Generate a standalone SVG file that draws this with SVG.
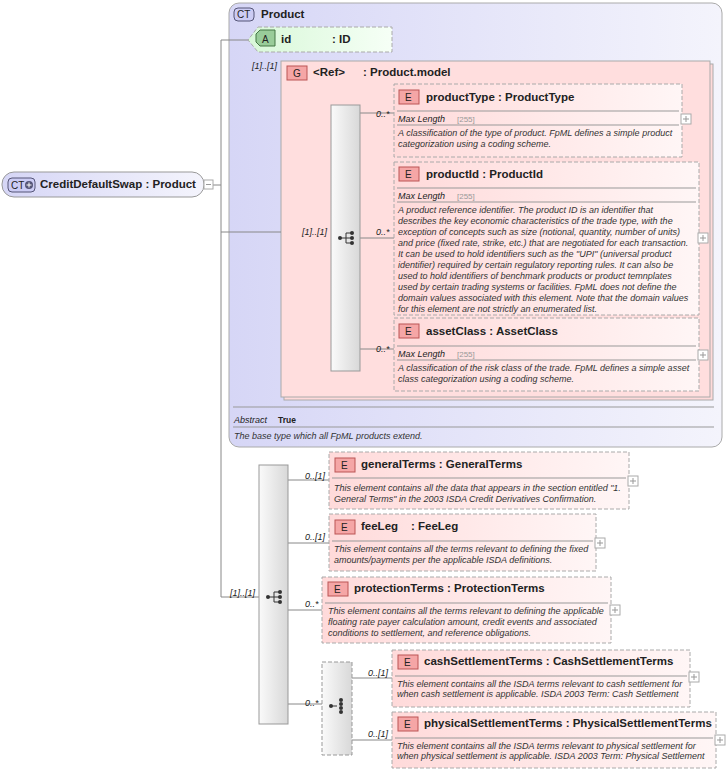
<svg xmlns="http://www.w3.org/2000/svg" width="728" height="775" viewBox="0 0 728 775">
<defs>
<linearGradient id="comp" x1="0" y1="0" x2="1" y2="0"><stop offset="0" stop-color="#fafafa"/><stop offset="1" stop-color="#d8d8d8"/></linearGradient>
<linearGradient id="el" x1="0" y1="0" x2="1" y2="0"><stop offset="0" stop-color="#ffdada"/><stop offset="1" stop-color="#fff6f6"/></linearGradient>
<linearGradient id="ct" x1="0" y1="0" x2="1" y2="0"><stop offset="0" stop-color="#d6d6f6"/><stop offset="1" stop-color="#f4f4fc"/></linearGradient>
<linearGradient id="at" x1="0" y1="0" x2="1" y2="0"><stop offset="0" stop-color="#d8f8d8"/><stop offset="1" stop-color="#f6fff6"/></linearGradient>
<g id="seqicon"><circle cx="-6" cy="0" r="2" fill="#333"/><path d="M-6 0H0M0 -5V5M0 -5H5M0 0H5M0 5H5" stroke="#333" fill="none"/><circle cx="6" cy="-5" r="2" fill="#333"/><circle cx="6" cy="0" r="2" fill="#333"/><circle cx="6" cy="5" r="2" fill="#333"/></g>
<g id="choiceicon"><circle cx="-6" cy="0" r="2" fill="#333"/><path d="M-6 0H0" stroke="#333"/><circle cx="4" cy="-6" r="2" fill="#333"/><circle cx="4" cy="-2" r="2" fill="#333"/><circle cx="4" cy="2" r="2" fill="#333"/><circle cx="4" cy="6" r="2" fill="#333"/></g>
<g id="plus"><rect x="-5" y="-5" width="10" height="10" fill="#fff" stroke="#aaa"/><path d="M-3 0H3M0 -3V3" stroke="#999"/></g>
</defs>
<style>
text{font-family:"Liberation Sans",Arial,sans-serif;fill:#222}
.t{font-size:11.5px;font-weight:bold}
.d{font-size:9px;font-style:italic;fill:#333}
.m{font-size:9px;font-style:italic;fill:#222}
.c{font-size:9px;font-style:italic}
.v{font-size:8px;fill:#999}
.e{fill:url(#el);stroke:#aaa;stroke-dasharray:4 2}
.badge{fill:#f5a6a6;stroke:#b55}
.sep{stroke:#999}
.cn{stroke:#888;fill:none}
</style>
<g id="Product">
<rect x="229" y="3" width="493" height="444" rx="10" fill="url(#ct)" stroke="#aaa"/>
<rect x="234" y="8" width="20" height="13" rx="4" fill="#ccccf4" stroke="#557"/>
<text x="237" y="18" font-size="10">CT</text>
<text class="t" x="261" y="18">Product</text>
<path class="sep" d="M233 407H714M233 427H714"/>
<text class="m" x="234" y="423">Abstract</text><text x="278" y="423" font-size="8.5" font-weight="bold">True</text>
<text class="d" x="234" y="439">The base type which all FpML products extend.</text>
</g>
<g id="group">
<rect x="284" y="64" width="429" height="336" fill="#ffdada" stroke="#aaa"/>
<rect x="281" y="61" width="429" height="336" fill="#ffdede" stroke="#aaa"/>
<rect x="287" y="66" width="20" height="14" class="badge"/>
<text x="293" y="77" font-size="10">G</text>
<text class="t" x="313" y="76">&lt;Ref&gt;</text><text class="t" x="363" y="76">: Product.model</text>
</g>
<g id="connectors">
<path class="cn" d="M213 185H221M221 40V597M221 40H248M221 232H281M221 597H259"/>
<path class="cn" d="M360 113H394M360 238H394M360 349H394"/>
<path class="cn" d="M288 480H329M288 543H329M288 610H322M288 704H322"/>
<path class="cn" d="M352 678H392M352 740H392"/>
<text class="c" x="252" y="69">[1]..[1]</text>
<text class="c" x="302" y="235">[1]..[1]</text>
<text class="c" x="230" y="596">[1]..[1]</text>
<text class="c" x="376" y="117">0..*</text>
<text class="c" x="376" y="235">0..*</text>
<text class="c" x="376" y="352">0..*</text>
<text class="c" x="305" y="479">0..[1]</text>
<text class="c" x="305" y="540">0..[1]</text>
<text class="c" x="305" y="607">0..*</text>
<text class="c" x="305" y="706">0..*</text>
<text class="c" x="368" y="676">0..[1]</text>
<text class="c" x="368" y="737">0..[1]</text>
</g>
<g id="root">
<rect x="2" y="172" width="202" height="25" rx="12" fill="url(#ct)" stroke="#999"/>
<rect x="8" y="178" width="27" height="14" rx="4" fill="#ccccf4" stroke="#557"/>
<text x="11" y="189" font-size="10">CT</text>
<circle cx="29" cy="185" r="4" fill="#557"/><path d="M26.5 185H31.5M29 182.5V187.5" stroke="#fff"/>
<text class="t" x="40" y="188">CreditDefaultSwap : Product</text>
<rect x="204" y="180" width="9" height="9" fill="#fff" stroke="#aaa"/><path d="M206 184.5H211" stroke="#999"/>
</g>
<g id="attr-id">
<path d="M258 27H392V52H258L248 40Z" fill="url(#at)" stroke="#aaa" stroke-dasharray="4 2"/>
<path d="M256 34L260 30H275V46H260L256 42Z" fill="#9c9" stroke="#474"/>
<text x="262" y="43" font-size="10">A</text>
<text class="t" x="281" y="43">id</text><text class="t" x="332" y="43">: ID</text>
</g>
<g id="seq1">
<rect x="331" y="105" width="29" height="266" fill="url(#comp)" stroke="#999"/>
<use href="#seqicon" x="346" y="238"/>
</g>
<g id="productType">
<rect class="e" x="394" y="84" width="288" height="73"/>
<rect class="badge" x="399" y="90" width="20" height="14"/><text x="405" y="101" font-size="10">E</text>
<text class="t" x="426" y="101">productType : ProductType</text>
<path class="sep" d="M397 111H679M397 125H679"/>
<text class="m" x="398" y="122">Max Length</text><text class="v" x="457" y="122">[255]</text>
<text class="d" x="398" y="136">A classification of the type of product. FpML defines a simple product</text>
<text class="d" x="398" y="147">categorization using a coding scheme.</text>
<use href="#plus" x="686" y="119"/>
</g>
<g id="productId">
<rect class="e" x="394" y="162" width="305" height="153"/>
<rect class="badge" x="399" y="167" width="20" height="14"/><text x="405" y="178" font-size="10">E</text>
<text class="t" x="426" y="178">productId : ProductId</text>
<path class="sep" d="M397 188H696M397 202H696"/>
<text class="m" x="398" y="199">Max Length</text><text class="v" x="457" y="199">[255]</text>
<text class="d" x="398" y="213">A product reference identifier. The product ID is an identifier that</text>
<text class="d" x="398" y="224">describes the key economic characteristics of the trade type, with the</text>
<text class="d" x="398" y="235">exception of concepts such as size (notional, quantity, number of units)</text>
<text class="d" x="398" y="246">and price (fixed rate, strike, etc.) that are negotiated for each transaction.</text>
<text class="d" x="398" y="257">It can be used to hold identifiers such as the "UPI" (universal product</text>
<text class="d" x="398" y="268">identifier) required by certain regulatory reporting rules. It can also be</text>
<text class="d" x="398" y="279">used to hold identifiers of benchmark products or product temnplates</text>
<text class="d" x="398" y="290">used by certain trading systems or facilities. FpML does not define the</text>
<text class="d" x="398" y="301">domain values associated with this element. Note that the domain values</text>
<text class="d" x="398" y="312">for this element are not strictly an enumerated list.</text>
<use href="#plus" x="703" y="238"/>
</g>
<g id="assetClass">
<rect class="e" x="394" y="318" width="305" height="73"/>
<rect class="badge" x="399" y="324" width="20" height="14"/><text x="405" y="335" font-size="10">E</text>
<text class="t" x="426" y="335">assetClass : AssetClass</text>
<path class="sep" d="M397 346H696M397 360H696"/>
<text class="m" x="398" y="357">Max Length</text><text class="v" x="457" y="357">[255]</text>
<text class="d" x="398" y="371">A classification of the risk class of the trade. FpML defines a simple asset</text>
<text class="d" x="398" y="382">class categorization using a coding scheme.</text>
<use href="#plus" x="703" y="355"/>
</g>
<g id="seq2">
<rect x="259" y="465" width="29" height="259" fill="url(#comp)" stroke="#999"/>
<use href="#seqicon" x="274" y="597"/>
</g>
<g id="generalTerms">
<rect class="e" x="329" y="452" width="300" height="57"/>
<rect class="badge" x="335" y="458" width="20" height="14"/><text x="341" y="469" font-size="10">E</text>
<text class="t" x="361" y="468">generalTerms : GeneralTerms</text>
<path class="sep" d="M332 478H626"/>
<text class="d" x="334" y="491">This element contains all the data that appears in the section entitled "1.</text>
<text class="d" x="334" y="502">General Terms" in the 2003 ISDA Credit Derivatives Confirmation.</text>
<use href="#plus" x="633" y="481"/>
</g>
<g id="feeLeg">
<rect class="e" x="329" y="514" width="267" height="57"/>
<rect class="badge" x="335" y="520" width="20" height="14"/><text x="341" y="531" font-size="10">E</text>
<text class="t" x="361" y="530">feeLeg</text><text class="t" x="411" y="530">: FeeLeg</text>
<path class="sep" d="M332 541H593"/>
<text class="d" x="334" y="552">This element contains all the terms relevant to defining the fixed</text>
<text class="d" x="334" y="563">amounts/payments per the applicable ISDA definitions.</text>
<use href="#plus" x="600" y="543"/>
</g>
<g id="protectionTerms">
<rect class="e" x="322" y="577" width="289" height="66"/>
<rect class="badge" x="328" y="582" width="20" height="14"/><text x="334" y="593" font-size="10">E</text>
<text class="t" x="354" y="592">protectionTerms : ProtectionTerms</text>
<path class="sep" d="M325 603H608"/>
<text class="d" x="328" y="614">This element contains all the terms relevant to defining the applicable</text>
<text class="d" x="328" y="625">floating rate payer calculation amount, credit events and associated</text>
<text class="d" x="328" y="636">conditions to settlement, and reference obligations.</text>
<use href="#plus" x="615" y="610"/>
</g>
<g id="choice">
<rect x="322" y="662" width="30" height="93" fill="url(#comp)" stroke="#999" stroke-dasharray="4 2"/>
<use href="#choiceicon" x="337" y="706"/>
</g>
<g id="cashSettlementTerms">
<rect class="e" x="392" y="650" width="298" height="57"/>
<rect class="badge" x="398" y="655" width="20" height="14"/><text x="404" y="666" font-size="10">E</text>
<text class="t" x="424" y="665">cashSettlementTerms : CashSettlementTerms</text>
<path class="sep" d="M395 676H687"/>
<text class="d" x="397" y="687">This element contains all the ISDA terms relevant to cash settlement for</text>
<text class="d" x="397" y="697">when cash settlement is applicable. ISDA 2003 Term: Cash Settlement</text>
<use href="#plus" x="694" y="677"/>
</g>
<g id="physicalSettlementTerms">
<rect class="e" x="392" y="712" width="324" height="56"/>
<rect class="badge" x="398" y="717" width="20" height="14"/><text x="404" y="728" font-size="10">E</text>
<text class="t" x="424" y="727">physicalSettlementTerms : PhysicalSettlementTerms</text>
<path class="sep" d="M395 738H713"/>
<text class="d" x="397" y="749">This element contains all the ISDA terms relevant to physical settlement for</text>
<text class="d" x="397" y="759">when physical settlement is applicable. ISDA 2003 Term: Physical Settlement</text>
<use href="#plus" x="720" y="740"/>
</g>
</svg>
